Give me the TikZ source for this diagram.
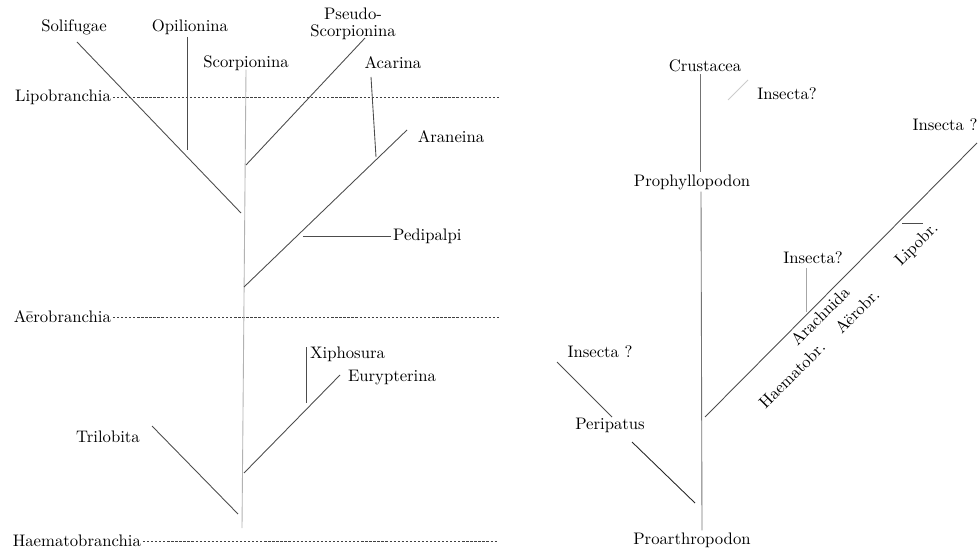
\documentclass[tikz,border=0pt]{standalone}
\usetikzlibrary{positioning}
\tikzset{
    taxon/.style={
        font=\fontsize{9.5}{10}\selectfont,
        inner sep=1pt,
        align=center
    },
    branch/.style={
        draw=black!70,
        line width=0.5pt
    },
    stem/.style={
        draw=black!30,
        line width=0.5pt
    },
    faint/.style={
        draw=black!20,
        line width=0.5pt
    },
    level/.style={
        draw=black!75,
        line width=0.45pt,
        dash pattern=on 1.3pt off 1pt
    }
}
\begin{document}
\begin{tikzpicture}[x=0.02cm, y=-0.02cm]
    \useasboundingbox (0,0) rectangle (979,550);

    % Left tree: labels
    \node[taxon] (solifugae) at (74,27) {Solifugae};
    \node[taxon] (opilionina) at (190,27) {Opilionina};
    \node[taxon] (pseudo) at (353,24) {Pseudo-\\Scorpionina};
    \node[taxon] (scorpionina) at (246,63) {Scorpionina};
    \node[taxon] (acarina) at (393,63) {Acarina};
    \node[taxon] (araneina) at (451,137) {Araneina};
    \node[taxon, anchor=west] (pedipalpi) at (391,236) {Pedipalpi};
    \node[taxon, anchor=west] (xiphosura) at (308,354) {Xiphosura};
    \node[taxon] (eurypterina) at (392,378) {Eurypterina};
    \node[taxon] (trilobita) at (108,437) {Trilobita};

    % Left tree: levels
    \node[taxon, anchor=east] (lipo) at (113,97) {Lipobranchia};
    \node[taxon, anchor=east] (aero) at (113,317) {Aērobranchia};
    \node[taxon, anchor=east] (haemato) at (143,541) {Haematobranchia};
    \coordinate (lipoEnd) at (500,97);
    \coordinate (aeroEnd) at (500,317);
    \coordinate (haematoEnd) at (497,541);
    \draw[level] (lipo.east) -- (lipoEnd);
    \draw[level] (aero.east) -- (aeroEnd);
    \draw[level] (haemato.east) -- (haematoEnd);

    % Left tree: branches
    \coordinate (trunkBot) at (242,528);
    \draw[stem] (scorpionina.south) ++(0,-3) -- (trunkBot);
    \coordinate (soliA) at (77,42);
    \coordinate (soliB) at (241,213);
    \draw[branch] (soliA) -- (soliB);
    \coordinate (opiA) at (187,37);
    \coordinate (opiB) at (187,150);
    \draw[branch] (opiA) -- (opiB);
    \coordinate (pseuA) at (365,38);
    \coordinate (pseuB) at (246,165);
    \draw[branch] (pseuA) -- (pseuB);
    \coordinate (acaA) at (371,77);
    \coordinate (acaB) at (376,157);
    \draw[branch] (acaA) -- (acaB);
    \coordinate (araA) at (407,130);
    \coordinate (araB) at (244,287);
    \draw[branch] (araA) -- (araB);
    \coordinate (pedA) at (303,236);
    \draw[branch] (pedA) -- (pedipalpi.west);
    \coordinate (xiphA) at (306,347);
    \coordinate (xiphB) at (306,403);
    \draw[branch] (xiphA) -- (xiphB);
    \coordinate (euryA) at (340,375);
    \coordinate (euryB) at (244,473);
    \draw[branch] (euryA) -- (euryB);
    \coordinate (triA) at (152,426);
    \coordinate (triB) at (238,514);
    \draw[branch] (triA) -- (triB);

    % Right tree: labels
    \node[taxon] (crustacea) at (705,66) {Crustacea};
    \node[taxon] (insectaA) at (787,94) {Insecta?};
    \node[taxon] (prophyllo) at (692,182) {Prophyllopodon};
    \node[taxon] (insectaB) at (945,125) {Insecta ?};
    \node[taxon] (insectaC) at (813,258) {Insecta?};
    \node[taxon] (insectaD) at (600,352) {Insecta ?};
    \node[taxon] (peripatus) at (610,425) {Peripatus};
    \node[taxon] (proarthro) at (692,540) {Proarthropodon};
    \node[taxon, rotate=45] (lipobr) at (917,245) {Lipobr.};
    \node[taxon, rotate=45] (arachnida) at (820,316) {Arachnida};
    \node[taxon, rotate=45] (haematobr) at (792,375) {Haematobr.};
    \node[taxon, rotate=45] (aerobr) at (857,311) {Aërobr.};

    % Right tree: branches
    \draw[branch, draw=black!55] (crustacea.south -| 700,0) -- (prophyllo.north -| 700,0);
    \draw[branch, draw=black!55] (prophyllo.south -| 701,0) -- (proarthro.north -| 702,0);
    \coordinate (crusA) at (748,80);
    \coordinate (crusB) at (728,100);
    \draw[faint] (crusA) -- (crusB);
    \coordinate (arachA) at (977,143);
    \coordinate (arachB) at (705,417);
    \draw[branch] (arachA) -- (arachB);
    \coordinate (tickA) at (902,223);
    \coordinate (tickB) at (923,223);
    \draw[branch] (tickA) -- (tickB);
    \coordinate (insA) at (806,268);
    \coordinate (insB) at (806,312);
    \draw[faint, draw=black!35] (insA) -- (insB);
    \coordinate (periA) at (557,362);
    \coordinate (periB) at (612,417);
    \draw[branch] (periA) -- (periB);
    \coordinate (periC) at (632,442);
    \coordinate (periD) at (695,503);
    \draw[branch, draw=black!85] (periC) -- (periD);
\end{tikzpicture}
\end{document}
